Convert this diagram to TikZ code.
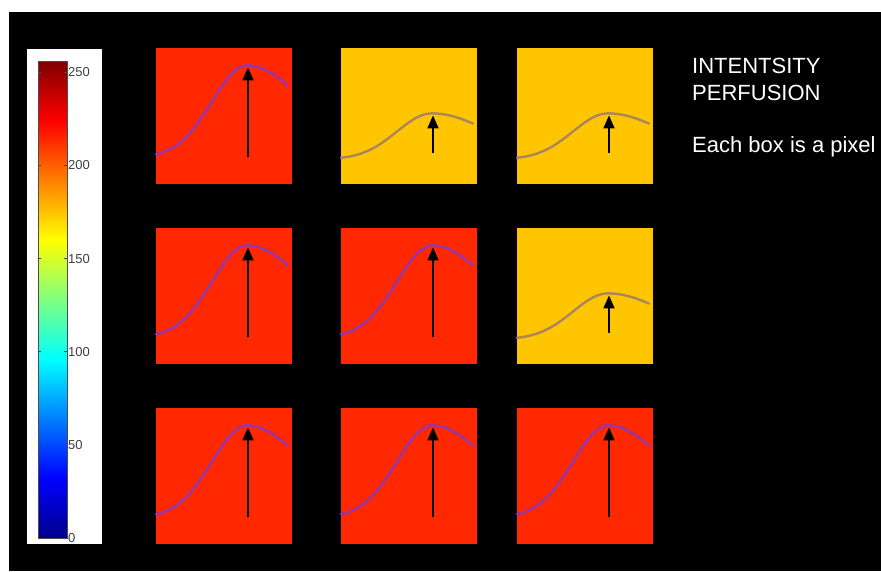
\documentclass[tikz,border=0pt]{standalone}
\usepackage{fontspec}
\setmainfont{Liberation Sans}
\usepackage{tikz}
\usetikzlibrary{arrows.meta}
\definecolor{hotred}{RGB}{255,40,0}
\definecolor{warmyellow}{RGB}{255,198,0}
\definecolor{hotline}{RGB}{148,55,172}
\definecolor{warmline}{RGB}{172,132,95}
\definecolor{jetA}{rgb}{0,0,0.55}
\definecolor{jetB}{rgb}{0,0,1}
\definecolor{jetC}{rgb}{0,0.5,1}
\definecolor{jetD}{rgb}{0,1,1}
\definecolor{jetE}{rgb}{0.5,1,0.5}
\definecolor{jetF}{rgb}{1,1,0}
\definecolor{jetG}{rgb}{1,0.5,0}
\definecolor{jetH}{rgb}{1,0,0}
\definecolor{jetI}{rgb}{0.5,0,0}
\pgfdeclareverticalshading{jet}{100bp}{color(0bp)=(jetA); color(25bp)=(jetA);
  color(31.25bp)=(jetB); color(37.5bp)=(jetC); color(43.75bp)=(jetD);
  color(50bp)=(jetE); color(56.25bp)=(jetF); color(62.5bp)=(jetG);
  color(68.75bp)=(jetH); color(75bp)=(jetI); color(100bp)=(jetI)}

\begin{document}
\begin{tikzpicture}[x=1pt, y=-1pt,
    pixel/.style={minimum size=136pt, inner sep=0pt, anchor=north west},
    hot/.style={pixel, fill=hotred},
    warm/.style={pixel, fill=warmyellow},
    curve/.style={line width=2.4pt, line cap=round},
    peakarrow/.style={-{Triangle[length=13pt, width=11pt]}, line width=1.8pt, color=black},
    cbarlabel/.style={font=\fontsize{13}{13}\selectfont, text=black!75, anchor=west, inner sep=0pt},
    cbartick/.style={line width=0.6pt, draw=black!70},
    remark/.style={font=\fontsize{22}{22}\selectfont, text=white, anchor=base west, inner sep=0pt},
    pics/signal/.style n args={4}{code={
        \draw[curve, draw=#3] plot[domain=0:91, samples=40, smooth]
            (\x, {-(#1)-(#2)*exp(-(\x-91)*(\x-91)/2450)})
          -- plot[domain=91:132, samples=20, smooth]
            (\x, {-(#1)-(#2)*exp(-(\x-91)*(\x-91)/6728)});
        \coordinate (-top) at (92, {-(#1)-(#2)+2});
        \coordinate (-base) at (92, -#4);
        \draw[peakarrow] (-base) -- (-top);
    }}
]
\useasboundingbox (0,0) rectangle (881,571);
\fill[black] (9,12) rectangle (881,571);

% colour bar
\fill[white] (27,49) rectangle (102,544);
\shade[shading=jet, draw=black!70, line width=0.6pt] (38,61) rectangle (67,538);
\foreach \v in {0,50,...,250}{
  \draw[cbartick] (38,{538-1.863*\v}) -- (41,{538-1.863*\v});
  \draw[cbartick] (67,{538-1.863*\v}) -- (64,{538-1.863*\v});
  \node[cbarlabel] (l\v) at (68,{538-1.863*\v}) {\v};
}

% pixels
\node[hot] (p11) at (156,48) {};
\node[warm] (p12) at (341,48) {};
\node[warm] (p13) at (517,48) {};
\node[hot] (p21) at (156,228) {};
\node[hot] (p22) at (341,228) {};
\node[warm] (p23) at (517,228) {};
\node[hot] (p31) at (156,408) {};
\node[hot] (p32) at (341,408) {};
\node[hot] (p33) at (517,408) {};

\pic (s11) at (p11.south west) {signal={27}{92}{hotline}{27}};
\pic (s12) at (p12.south west) {signal={25}{46}{warmline}{31}};
\pic (s13) at (p13.south west) {signal={25}{46}{warmline}{31}};
\pic (s21) at (p21.south west) {signal={27}{92}{hotline}{27}};
\pic (s22) at (p22.south west) {signal={27}{92}{hotline}{27}};
\pic (s23) at (p23.south west) {signal={25}{46}{warmline}{31}};
\pic (s31) at (p31.south west) {signal={27}{92}{hotline}{27}};
\pic (s32) at (p32.south west) {signal={27}{92}{hotline}{27}};
\pic (s33) at (p33.south west) {signal={27}{92}{hotline}{27}};

% text
\node[remark] (t1) at (692,73) {INTENTSITY};
\node[remark] (t2) at (692,100) {PERFUSION};
\node[remark] (t3) at (692,152) {Each box is a pixel};
\end{tikzpicture}
\end{document}
